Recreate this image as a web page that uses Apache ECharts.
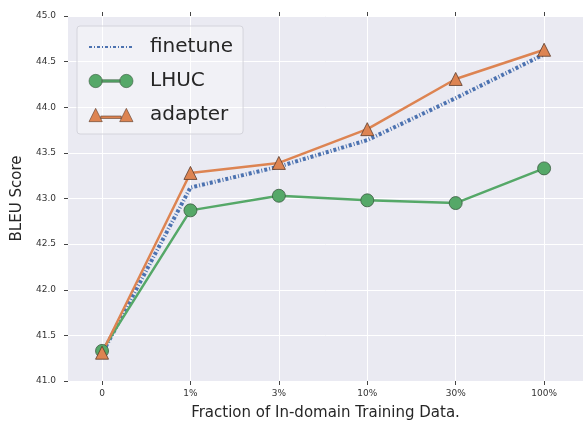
<!DOCTYPE html>
<html>
<head>
<meta charset="utf-8">
<script src="https://cdn.jsdelivr.net/npm/echarts@6/dist/echarts.min.js"></script>
<style>
html,body{margin:0;padding:0;background:#fff;}
#chart{width:584px;height:421px;}
</style>
</head>
<body>
<div id="chart"></div>
<script>
var categories = ['0', '1%', '3%', '10%', '30%', '100%'];
var finetune = [41.30, 43.12, 43.35, 43.64, 44.10, 44.58];
var lhuc = [41.33, 42.87, 43.03, 42.98, 42.95, 43.33];
var adapter = [41.31, 43.28, 43.39, 43.76, 44.31, 44.63];
var yTicks = [41.0, 41.5, 42.0, 42.5, 43.0, 43.5, 44.0, 44.5, 45.0];

var FONT = 'DejaVu Sans';
var idx = categories.map(function (c, i) { return i; });
function pairs(arr) { return arr.map(function (v, i) { return [i, v]; }); }

var chart = echarts.init(document.getElementById('chart'), null, { renderer: 'canvas' });
function ticks(color) { return { show: true, length: 4, lineStyle: { color: color, width: 1 } }; }

var circIcon = 'path://M0.5,7a6.5,6.5 0 1,0 13,0a6.5,6.5 0 1,0 -13,0Z M30.5,7a6.5,6.5 0 1,0 13,0a6.5,6.5 0 1,0 -13,0Z M13,5.8H31V8.2H13Z';
var triIcon = 'path://M7,0.5L13.5,13.5L0.5,13.5Z M37,0.5L43.5,13.5L30.5,13.5Z M12,8H32V10.4H12Z';

chart.setOption({
  animation: false,
  backgroundColor: '#ffffff',
  grid: {
    left: 68, right: 1, top: 16, bottom: 40,
    containLabel: false, outerBoundsMode: 'none',
    show: true, backgroundColor: '#EAEAF2', borderWidth: 0
  },
  legend: {
    orient: 'vertical',
    left: 77, top: 26,
    padding: [11, 10, 9, 11],
    itemGap: 14,
    itemWidth: 44, itemHeight: 14,
    backgroundColor: 'rgba(255,255,255,0.35)',
    borderColor: '#d4d4dc', borderWidth: 1, borderRadius: 3,
    textStyle: { fontFamily: FONT, fontSize: 20, color: '#262626', padding: [0, 0, 0, 12] },
    data: [
      { name: 'finetune', itemStyle: { opacity: 0 } },
      { name: 'LHUC', icon: circIcon, itemStyle: { borderWidth: 0.6 } },
      { name: 'adapter', icon: triIcon, itemStyle: { borderWidth: 0.6 } }
    ]
  },
  xAxis: [{
    type: 'value', position: 'bottom',
    min: -0.385, max: 5.44,
    name: 'Fraction of In-domain Training Data.',
    nameLocation: 'middle', nameGap: 25,
    nameTextStyle: { fontFamily: FONT, fontSize: 15, color: '#262626' },
    axisLine: { show: false, onZero: false },
    axisTick: Object.assign({ customValues: idx.slice() }, ticks('#444')),
    axisLabel: {
      customValues: idx.slice(), margin: 8,
      fontFamily: FONT, fontSize: 9, color: '#333',
      formatter: function (v) { return categories[Math.round(v)]; }
    },
    splitLine: { show: true, lineStyle: { color: '#ffffff', width: 1 } }
  }, {
    type: 'value', position: 'top',
    min: -0.385, max: 5.44,
    axisLine: { show: false, onZero: false },
    axisTick: Object.assign({ customValues: idx.slice() }, ticks('#444')),
    axisLabel: { show: false },
    splitLine: { show: false }
  }],
  yAxis: {
    type: 'value', min: 41, max: 45, interval: 0.5,
    name: 'BLEU Score',
    nameLocation: 'middle', nameGap: 42,
    nameTextStyle: { fontFamily: FONT, fontSize: 15, color: '#262626' },
    axisLine: { show: false, onZero: false },
    axisTick: ticks('#444'),
    axisLabel: {
      margin: 12, fontFamily: FONT, fontSize: 9, color: '#333',
      formatter: function (v) { return v.toFixed(1); }
    },
    splitLine: { show: true, lineStyle: { color: '#ffffff', width: 1 } }
  },
  series: [{
    name: 'finetune', type: 'line', xAxisIndex: 0,
    data: pairs(finetune),
    symbol: 'none',
    itemStyle: { color: '#4C72B0' },
    lineStyle: { color: '#4C72B0', width: 4, type: [3, 2, 1, 2] }
  }, {
    name: 'LHUC', type: 'line', xAxisIndex: 0,
    data: pairs(lhuc),
    symbol: 'circle', symbolSize: 13,
    itemStyle: { color: '#55A868', borderColor: '#3a5a40', borderWidth: 0.8 },
    lineStyle: { color: '#55A868', width: 2.5 }
  }, {
    name: 'adapter', type: 'line', xAxisIndex: 0,
    data: pairs(adapter),
    symbol: 'triangle', symbolSize: 13,
    itemStyle: { color: '#DD8452', borderColor: '#5a3a2a', borderWidth: 0.8 },
    lineStyle: { color: '#DD8452', width: 2.5 }
  }]
});
</script>
</body>
</html>
